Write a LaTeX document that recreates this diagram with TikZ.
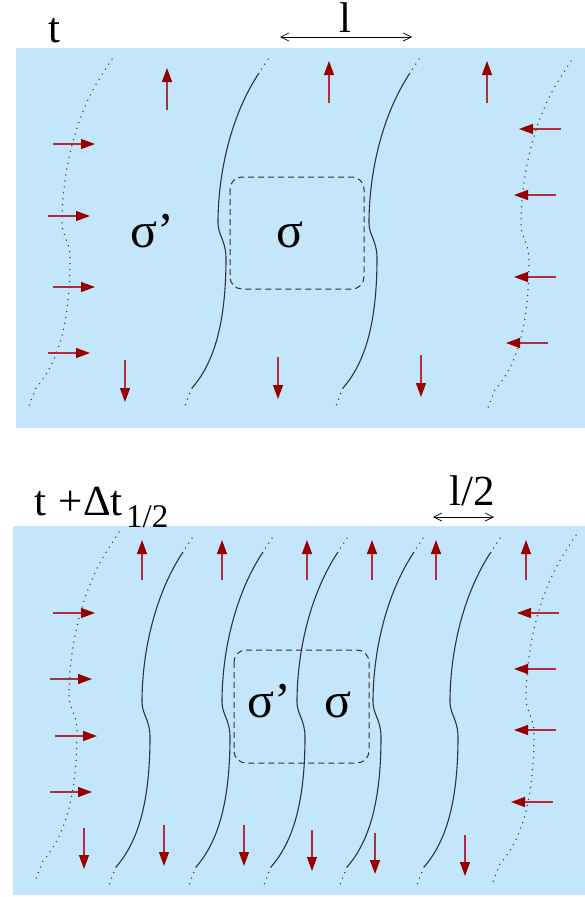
\documentclass[tikz,border=0pt]{standalone}
\usepackage{fontspec}
\setmainfont{Liberation Serif}
\usetikzlibrary{arrows.meta, positioning}
\definecolor{sheet-blue}{RGB}{196, 230, 251}
\definecolor{flow-red}{RGB}{150, 0, 0}
\definecolor{shaft-red}{RGB}{175, 45, 60}
\definecolor{wall-grey}{RGB}{50, 52, 60}

\tikzset{
  wall/.pic={
    \draw[dotline] (9,-14) -- (0,0);
    \draw[wall-grey, line width=1.1pt] (0,0) .. controls (-28,42) and (-41,100) .. (-41,150)
      .. controls (-41,162) and (-33,168) .. (-33,185)
      .. controls (-33,250) and (-45,290) .. (-67,315);
    \draw[dotline] (-67,315) -- (-75,335);
  },
  ghost/.pic={
    \draw[dotline] (9,-14) -- (0,0) .. controls (-28,42) and (-41,100) .. (-41,150)
      .. controls (-41,162) and (-33,168) .. (-33,185)
      .. controls (-33,250) and (-45,290) .. (-67,315) -- (-75,335);
  }
}

\begin{document}
\begin{tikzpicture}[
  x=1pt, y=-1pt,
  dotline/.style={wall-grey, line width=1.5pt, line cap=round, dash pattern=on 0pt off 6pt},
  push/.style={shaft-red, line width=1.2pt, -{Triangle[length=14pt, width=10pt, flow-red]}},
  span/.style={black, line width=0.7pt, {Straight Barb[length=8pt, width=8pt]}-{Straight Barb[length=8pt, width=8pt]}},
  cell/.style={black!80, line width=1pt, dash pattern=on 6pt off 4pt, rounded corners=12pt},
  label/.style={font=\fontsize{43}{47}\selectfont, inner sep=0pt},
  greek/.style={font=\fontsize{50}{54}\selectfont, inner sep=0pt, anchor=base west}
]
  \useasboundingbox (0,0) rectangle (585,897);

  % top sheet, time t
  \fill[sheet-blue] (16,48) rectangle (585,428);
  \node[label, anchor=base] (tnow) at (54,42) {t};
  \node[label, anchor=base] (len) at (345,32) {l};
  \coordinate (lenA) at (280,37);
  \coordinate (lenB) at (412,37);
  \draw[span] (lenA) -- (lenB);

  \pic at (103,73) {ghost};
  \pic at (259,73) {wall};
  \pic at (410,73) {wall};
  \pic at (562,75) {ghost};

  \draw[cell] (230,177) rectangle (364,289);
  \node[greek] (sigmaOut) at (130,247) {σ’};
  \node[greek] (sigmaIn) at (276,247) {σ};

  \foreach \x/\y in {167/110, 329/103, 487/103}
    \draw[push] (\x,\y) -- ++(0,-42);
  \foreach \x/\y in {125/360, 278/357, 421/355}
    \draw[push] (\x,\y) -- ++(0,42);
  \foreach \x/\y in {53/144, 48/216, 53/287, 48/353}
    \draw[push] (\x,\y) -- ++(42,0);
  \foreach \x/\y in {561/129, 556/195, 556/277, 548/343}
    \draw[push] (\x,\y) -- ++(-42,0);

  % bottom sheet, half step later
  \fill[sheet-blue] (13,526) rectangle (585,895);
  \node[label, anchor=base east] (tlater) at (123,515) {t\hspace{0.3em}+Δt};
  \node[font=\fontsize{33}{37}\selectfont, inner sep=0pt, anchor=base west] (half) at (126,527) {1/2};
  \node[label, anchor=base] (halflen) at (472,505) {l/2};
  \coordinate (halfA) at (433,517);
  \coordinate (halfB) at (494,517);
  \draw[span] (halfA) -- (halfB);

  \pic at (110,546) {ghost};
  \foreach \x in {183, 263, 338, 414, 491}
    \pic at (\x,552) {wall};
  \pic at (567,549) {ghost};

  \draw[cell] (234,650) rectangle (369,763);
  \node[greek] (sigmaOutB) at (247,717) {σ’};
  \node[greek] (sigmaInB) at (324,717) {σ};

  \foreach \x in {142, 222, 307, 372, 436, 526}
    \draw[push] (\x,580) -- ++(0,-40);
  \foreach \x/\y in {84/828, 164/825, 244/825, 312/830, 375/833, 465/835}
    \draw[push] (\x,\y) -- ++(0,41);
  \foreach \x/\y in {53/613, 50/679, 55/736, 50/792}
    \draw[push] (\x,\y) -- ++(42,0);
  \foreach \x/\y in {559/613, 556/669, 556/730, 553/802}
    \draw[push] (\x,\y) -- ++(-42,0);
\end{tikzpicture}
\end{document}
